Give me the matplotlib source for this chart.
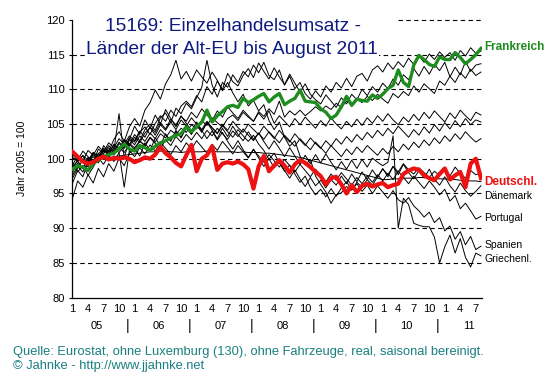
import matplotlib
matplotlib.use("Agg")
import matplotlib.pyplot as plt

plt.rcParams["font.family"] = ["Liberation Sans", "DejaVu Sans"]

# monthly index, 2005 = 100, Jan 2005 .. Aug 2011
deutschland = [
    101.0, 100.3, 99.6, 99.3, 99.5, 100.0, 100.3, 99.9, 100.1, 100.0, 100.2, 100.0,
    99.5, 99.8, 100.2, 100.0, 100.6, 101.7, 100.8, 100.2, 99.4, 98.9, 100.5, 102.0,
    98.2, 100.0, 100.5, 101.8, 98.4, 99.3, 99.5, 99.3, 99.6, 99.2, 98.5, 95.7,
    98.9, 100.4, 98.2, 99.0, 99.8, 99.0, 98.0, 99.2, 99.8, 99.4, 98.8, 98.1,
    97.5, 96.3, 97.2, 97.4, 96.3, 95.0, 96.2, 95.2, 96.1, 96.4, 96.0, 96.3,
    96.5, 95.9, 96.2, 96.4, 97.8, 98.3, 98.6, 98.4, 97.6, 97.2, 96.9, 97.8,
    98.6, 97.0, 97.6, 98.1, 95.9, 99.3, 100.0, 97.2,
]
frankreich = [
    98.5, 99.0, 98.8, 98.3, 99.3, 99.8, 100.3, 100.6, 100.8, 101.5, 102.1, 101.4,
    101.1, 101.9, 101.6, 101.2, 101.8, 102.3, 102.6, 103.0, 103.4, 103.6, 104.6, 103.9,
    104.6, 105.3, 107.0, 105.3, 106.2, 106.8, 107.5, 107.7, 107.4, 108.7, 108.1, 108.5,
    109.0, 109.4, 108.2, 108.9, 109.4, 107.8, 108.3, 108.7, 109.9, 108.3, 108.2, 108.1,
    107.2, 106.7, 105.8, 106.3, 107.5, 109.0, 107.7, 108.6, 108.4, 108.3, 109.2, 108.7,
    109.3, 110.1, 110.6, 112.8, 111.0, 110.4, 113.5, 114.9, 114.3, 113.6, 113.3, 114.7,
    114.3, 114.3, 115.3, 114.6, 113.7, 114.3, 115.0, 115.9,
]
schweden = [
    98.5, 99.8, 100.4, 99.2, 100.9, 100.2, 101.5, 100.8, 102.1, 101.4, 102.8, 102.0,
    103.5, 102.6, 104.2, 105.0, 104.1, 105.9, 106.6, 105.2, 107.3, 106.5, 108.0, 107.2,
    108.8, 110.3, 114.2, 110.6, 108.9, 111.0, 110.3, 112.1, 111.0, 112.6, 111.8, 113.5,
    112.4, 113.9, 112.0, 111.4, 112.8, 110.6, 111.9, 110.1, 111.0, 109.4, 108.6, 109.8,
    108.9, 110.5, 109.6, 111.0, 110.2, 111.6, 110.4, 111.9, 112.3, 111.2, 112.8, 113.4,
    112.5, 113.8, 112.9, 114.0, 113.2, 114.5, 113.6, 114.8, 113.9, 115.1, 114.3, 115.4,
    114.6, 115.3, 114.2, 115.6, 114.8, 116.0, 115.2, 115.5,
]
finnland = [
    97.6, 98.9, 98.1, 99.6, 100.3, 99.4, 100.8, 101.6, 100.9, 102.2, 101.5, 103.0,
    102.4, 103.8, 104.6, 103.5, 105.1, 106.2, 105.4, 107.0, 106.1, 107.6, 108.3, 107.5,
    109.1, 108.2, 110.4, 109.3, 111.2, 110.0, 112.3, 111.1, 110.5, 112.0, 113.0, 111.7,
    113.8, 112.6, 111.5, 113.1, 111.8, 110.7, 112.2, 110.9, 109.6, 110.8, 109.3, 108.5,
    107.9, 109.2, 108.3, 107.4, 108.8, 107.9, 109.3, 108.5, 110.0, 109.1, 110.4, 109.6,
    110.9, 110.1, 111.5, 110.6, 112.1, 111.4, 113.0, 111.9, 113.3, 112.2, 113.6, 112.7,
    113.9, 111.8, 113.2, 112.1, 114.0, 112.6, 113.5, 113.7,
]
grossbritannien = [
    100.2, 99.6, 100.5, 99.8, 100.9, 100.4, 101.2, 100.7, 101.5, 100.9, 101.8, 102.2,
    101.6, 102.5, 102.0, 103.1, 102.4, 103.6, 103.0, 104.1, 103.5, 104.4, 103.8, 104.9,
    104.3, 105.5, 104.8, 105.9, 105.2, 104.6, 105.8, 106.3, 105.5, 106.7, 106.0, 105.4,
    106.8, 106.1, 107.2, 106.4, 108.3, 106.0, 106.9, 106.3, 107.0, 106.2, 106.8, 107.5,
    106.9, 107.6, 107.1, 108.0, 107.4, 108.3, 107.8, 108.6, 108.1, 109.0, 108.4, 109.3,
    108.6, 108.0, 109.4, 108.8, 109.7, 109.1, 110.5, 109.6, 110.8, 110.1, 109.4, 111.2,
    110.6, 111.9, 111.0, 112.4, 111.6, 112.9, 112.0, 112.5,
]
irland = [
    96.5, 98.3, 97.4, 99.5, 100.8, 99.6, 101.9, 101.0, 102.8, 103.9, 102.5, 104.6,
    105.8, 104.7, 107.0, 108.1, 109.9, 108.6, 110.8, 112.1, 114.2, 111.5, 112.6, 111.2,
    112.8, 111.8, 110.9, 112.5, 111.3, 109.8, 111.0, 109.5, 108.2, 109.3, 107.6, 108.4,
    106.9, 107.8, 105.5, 104.2, 105.3, 103.1, 101.8, 102.6, 100.4, 99.1, 99.9, 97.5,
    96.3, 95.2, 93.6, 94.8, 95.1, 96.0, 95.5, 96.6, 95.9, 97.0, 96.2, 97.4,
    98.5, 97.7, 98.9, 98.1, 99.3, 98.4, 97.8, 98.7, 98.0, 97.3, 98.2, 97.6,
    98.4, 97.5, 98.8, 97.9, 97.2, 98.3, 97.7, 97.9,
]
oesterreich = [
    99.1, 100.4, 99.7, 101.2, 100.5, 101.8, 101.0, 102.3, 101.6, 102.9, 102.1, 103.3,
    102.6, 104.0, 103.1, 104.6, 103.8, 105.2, 104.3, 105.7, 104.9, 106.1, 105.4, 106.7,
    105.9, 107.2, 106.3, 105.5, 106.9, 106.0, 107.5, 106.6, 105.8, 107.0, 106.2, 105.4,
    106.6, 105.7, 106.9, 105.1, 106.2, 105.4, 104.6, 105.8, 104.9, 106.0, 105.2, 104.4,
    105.5, 104.7, 105.9, 105.0, 104.3, 105.4, 104.6, 105.7, 104.8, 105.9, 105.1, 106.2,
    105.4, 106.5, 105.6, 104.9, 106.0, 105.3, 106.4, 105.5, 106.7, 105.8, 106.9, 106.1,
    105.3, 106.6, 105.8, 107.0, 106.2, 105.5, 106.7, 106.3,
]
belgien = [
    100.6, 99.8, 101.1, 100.3, 99.5, 101.4, 100.7, 101.9, 101.1, 102.4, 101.6, 102.8,
    102.0, 103.3, 102.5, 103.7, 102.9, 104.2, 103.4, 102.7, 103.9, 103.1, 104.4, 103.6,
    104.8, 103.9, 105.2, 104.4, 103.6, 104.9, 104.1, 105.4, 104.5, 103.8, 105.0, 104.2,
    103.5, 104.7, 103.8, 102.9, 104.1, 103.2, 102.4, 103.6, 102.7, 101.9, 103.0, 102.2,
    101.5, 102.6, 101.8, 102.9, 102.1, 103.2, 102.4, 103.5, 102.7, 103.8, 103.0, 104.1,
    103.3, 104.4, 103.6, 104.7, 103.9, 103.1, 104.2, 103.4, 104.6, 103.7, 104.9, 104.0,
    105.2, 104.3, 105.5, 104.6, 105.8, 104.9, 105.6, 105.3,
]
niederlande = [
    98.9, 99.7, 98.6, 100.2, 99.4, 100.8, 99.9, 101.3, 100.5, 101.7, 100.9, 102.1,
    101.3, 102.6, 101.8, 103.0, 102.2, 101.5, 102.7, 101.9, 103.2, 102.4, 103.5, 102.7,
    103.8, 102.9, 104.1, 103.3, 104.4, 103.6, 102.8, 104.0, 103.2, 104.3, 103.4, 102.6,
    103.7, 102.8, 103.9, 103.1, 102.3, 103.4, 102.6, 101.8, 102.9, 102.1, 101.3, 102.4,
    101.6, 100.8, 101.9, 101.1, 100.3, 101.4, 100.6, 101.7, 100.9, 101.9, 101.2, 100.5,
    101.5, 100.7, 101.8, 101.0, 102.1, 101.3, 102.4, 101.6, 102.7, 101.9, 103.0, 102.2,
    103.3, 102.5, 103.6, 102.8, 103.9, 103.1, 102.4, 102.9,
]
italien = [
    100.1, 99.8, 99.6, 99.7, 99.9, 100.0, 100.2, 100.1, 100.3, 100.4, 100.5, 100.6,
    100.7, 100.8, 100.9, 101.0, 101.0, 101.1, 101.1, 101.0, 101.0, 100.9, 101.0, 101.0,
    101.0, 101.0, 101.1, 101.1, 101.0, 101.0, 101.0, 101.0, 100.9, 101.0, 100.9, 100.9,
    100.9, 100.8, 100.8, 100.7, 100.6, 100.5, 100.4, 100.3, 100.2, 100.0, 99.8, 99.6,
    99.4, 99.2, 99.0, 98.8, 98.6, 98.4, 98.2, 98.0, 97.8, 97.6, 97.4, 97.2,
    97.0, 97.0, 97.1, 97.1, 97.2, 97.2, 97.2, 97.3, 97.3, 97.2, 97.2, 97.1,
    97.1, 97.0, 97.0, 96.9, 96.9, 96.8, 96.8, 96.7,
]
daenemark = [
    97.2, 98.6, 99.9, 98.8, 100.7, 99.5, 101.3, 100.4, 101.2, 106.5, 100.1, 102.8,
    104.7, 103.5, 105.6, 104.4, 106.3, 105.0, 107.1, 105.8, 104.6, 106.2, 105.1, 104.0,
    105.3, 104.1, 102.9, 104.0, 102.7, 103.8, 102.5, 101.4, 102.6, 101.3, 100.2, 101.4,
    100.1, 98.9, 100.0, 98.7, 99.6, 98.3, 97.2, 98.4, 97.1, 96.0, 97.3, 96.1,
    96.9, 95.8, 97.0, 96.2, 97.5, 96.4, 97.8, 96.7, 98.1, 97.0, 98.4, 97.3,
    98.6, 97.4, 98.9, 97.7, 99.2, 98.0, 97.1, 98.3, 97.2, 98.5, 97.0, 96.2,
    97.4, 96.1, 95.2, 96.5, 95.4, 94.6, 95.3, 96.1,
]
portugal = [
    99.3, 98.1, 99.0, 97.6, 98.8, 100.1, 99.2, 100.5, 99.6, 100.9, 95.9, 101.2,
    100.3, 101.6, 100.7, 102.0, 101.1, 102.4, 101.5, 100.6, 101.9, 101.0, 102.3, 101.4,
    102.6, 101.7, 100.8, 102.1, 101.2, 102.5, 101.6, 100.7, 101.9, 101.0, 100.1, 101.3,
    100.4, 99.5, 100.6, 99.7, 98.8, 99.9, 99.0, 98.1, 99.2, 98.3, 97.4, 98.5,
    97.6, 96.7, 97.8, 96.9, 98.0, 97.1, 96.2, 97.3, 96.4, 97.5, 96.6, 97.7,
    96.8, 97.9, 97.0, 98.2, 97.3, 96.4, 97.5, 96.6, 95.7, 96.8, 95.9, 94.8,
    95.6, 93.9, 94.7, 92.8, 93.6, 92.5, 91.3, 91.7,
]
spanien = [
    98.0, 99.4, 98.6, 100.1, 99.3, 100.7, 101.5, 100.6, 102.0, 101.2, 102.6, 101.8,
    103.1, 102.3, 103.7, 104.5, 103.4, 104.9, 104.1, 105.3, 104.2, 105.6, 104.7, 105.9,
    105.0, 104.2, 105.4, 104.5, 103.7, 104.8, 103.9, 103.1, 104.2, 103.3, 102.5, 103.4,
    102.1, 101.2, 99.9, 100.8, 99.4, 98.2, 99.1, 97.8, 96.6, 97.5, 95.9, 94.8,
    95.6, 94.5, 95.7, 94.6, 95.8, 96.7, 95.5, 96.4, 95.3, 96.2, 95.0, 96.1,
    95.2, 94.3, 95.4, 94.1, 93.6, 94.4, 93.2, 92.5, 91.6, 92.3, 90.8, 91.5,
    89.6, 90.3, 88.4, 89.5, 87.6, 88.8, 86.9, 87.4,
]
griechenland = [
    94.3, 96.8, 95.9, 97.7, 96.5, 98.6, 97.4, 99.3, 98.2, 100.1, 99.0, 100.8,
    101.5, 100.4, 102.3, 101.2, 103.0, 101.9, 103.6, 102.5, 104.1, 103.0, 104.6, 103.5,
    104.9, 103.8, 105.3, 104.1, 102.9, 104.4, 103.2, 104.7, 103.5, 102.6, 103.9, 102.8,
    103.7, 102.5, 101.4, 102.6, 101.5, 100.3, 101.6, 100.4, 99.2, 100.5, 99.3, 100.6,
    99.4, 100.7, 99.5, 98.4, 99.6, 98.5, 99.8, 98.6, 99.9, 98.8, 100.1, 99.5,
    99.0, 99.5, 103.3, 90.0, 94.3, 93.4, 90.7, 90.4, 90.2, 90.2, 88.7, 85.0,
    87.3, 89.0, 86.4, 88.5, 85.8, 84.4, 86.4, 86.0,
]

andere = [schweden, finnland, grossbritannien, irland, oesterreich, belgien,
          niederlande, italien, daenemark, portugal, spanien, griechenland]

monat_ticks = [0, 3, 6, 9, 12, 15, 18, 21, 24, 27, 30, 33, 36, 39, 42, 45,
               48, 51, 54, 57, 60, 63, 66, 69, 72, 75, 78]
monat_labels = ["1", "4", "7", "10"] * 6 + ["1", "4", "7"]
jahre = ["05", "06", "07", "08", "09", "10", "11"]

rechts_labels = [
    ("Frankreich", 116.1, "#1e8c1e", "bold", 8.5),
    ("Deutschl.", 96.7, "#ee1111", "bold", 8.5),
    ("Dänemark", 94.7, "black", "normal", 7.5),
    ("Portugal", 91.5, "black", "normal", 7.5),
    ("Spanien", 87.5, "black", "normal", 7.5),
    ("Griechenl.", 85.6, "black", "normal", 7.5),
]

fig = plt.figure(figsize=(5.53, 3.76), dpi=100)
ax = fig.add_axes([72 / 553, 1 - 297.5 / 376, 410 / 553, 277.5 / 376])

x = list(range(len(deutschland)))

# gridlines
for v in [85, 90, 95, 100, 105, 110, 115]:
    ax.axhline(v, color="black", lw=0.8, ls=(0, (4, 3)), zorder=1)
ax.plot([63, 79], [120, 120], color="black", lw=0.8, ls=(0, (4, 3)), zorder=1,
        clip_on=False)

for serie in andere:
    ax.plot(x, serie, color="black", lw=0.7, zorder=2)
ax.plot(x, frankreich, color="#1e8c1e", lw=2.4, zorder=3)
ax.plot(x, deutschland, color="#ee1111", lw=3.0, zorder=4)

ax.set_xlim(-0.1, 79.2)
ax.set_ylim(80, 120)
ax.set_yticks(range(80, 121, 5))
ax.tick_params(axis="y", length=2, width=0.8, labelsize=8, pad=3)
ax.set_xticks(monat_ticks)
ax.set_xticklabels(monat_labels)
ax.tick_params(axis="x", length=0, labelsize=8, pad=5)
for s in ["top", "right"]:
    ax.spines[s].set_visible(False)
ax.spines["left"].set_linewidth(0.9)
ax.spines["bottom"].set_linewidth(0.9)

ax.set_ylabel("Jahr 2005 = 100", fontsize=7.5, labelpad=14)

trans = ax.get_xaxis_transform()
for i, j in enumerate(jahre):
    ax.text(4.6 + 12 * i, -0.102, j, transform=trans, ha="center", va="center",
            fontsize=8)
    if i < len(jahre) - 1:
        ax.text(10.7 + 12 * i, -0.102, "|", transform=trans, ha="center",
                va="center", fontsize=10.5)

for txt, yv, col, w, fs in rechts_labels:
    ax.text(79.7, yv, txt, color=col, fontweight=w, fontsize=fs, va="center",
            ha="left", clip_on=False)

titel_farbe = "#0d1a80"
ax.text(0.392, 0.975, "15169: Einzelhandelsumsatz -", transform=ax.transAxes,
        ha="center", va="center", fontsize=13.8, color=titel_farbe, zorder=6,
        bbox=dict(facecolor="white", edgecolor="none", pad=1))
ax.text(0.39, 0.893, "Länder der Alt-EU bis August 2011", transform=ax.transAxes,
        ha="center", va="center", fontsize=13.8, color=titel_farbe, zorder=6,
        bbox=dict(facecolor="white", edgecolor="none", pad=1))

fig.text(13 / 553, 1 - 351.5 / 376,
         "Quelle: Eurostat, ohne Luxemburg (130), ohne Fahrzeuge, real, saisonal bereinigt.",
         fontsize=9.3, color="#1a7f80", va="center")
fig.text(13 / 553, 1 - 365.5 / 376, "© Jahnke - http://www.jjahnke.net",
         fontsize=9.3, color="#1a7f80", va="center")

fig.savefig("out.png", dpi=100)
